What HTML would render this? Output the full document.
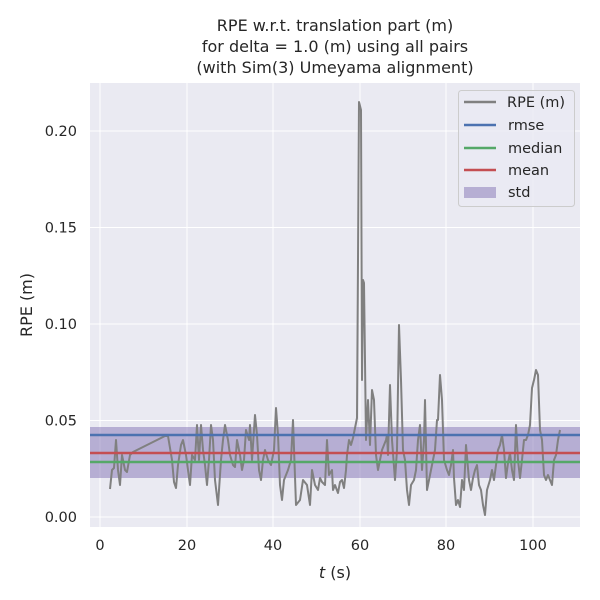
<!DOCTYPE html>
<html><head><meta charset="utf-8"><style>body{margin:0;background:#fff}svg{display:block;font-family:"DejaVu Sans","Liberation Sans",sans-serif}</style></head><body>
<svg width="600" height="600" viewBox="0 0 600 600">
<rect width="600" height="600" fill="#fff"/>
<rect x="90" y="83" width="490" height="444" fill="#eaeaf2"/>
<g stroke="#fff" stroke-width="1">
<line x1="100" y1="83" x2="100" y2="527"/><line x1="187" y1="83" x2="187" y2="527"/><line x1="273" y1="83" x2="273" y2="527"/><line x1="360" y1="83" x2="360" y2="527"/><line x1="446" y1="83" x2="446" y2="527"/><line x1="533" y1="83" x2="533" y2="527"/>
<line x1="90" y1="517" x2="580" y2="517"/><line x1="90" y1="420.5" x2="580" y2="420.5"/><line x1="90" y1="324" x2="580" y2="324"/><line x1="90" y1="227.5" x2="580" y2="227.5"/><line x1="90" y1="131" x2="580" y2="131"/>
</g>
<rect x="90" y="427" width="490" height="51" fill="#8172b3" fill-opacity="0.5"/>
<polyline fill="none" stroke="#808080" stroke-width="2" stroke-linejoin="round" points="110,489 112,470 114,468 116,440 118,470 120,485 122,455 125,470 127,472 130,455 133,452 165,436 168,436 172,460 174,482 176,488 178,465 181,445 183,440 186,455 188,470 190,485 192,455 195,460 197,425 199,460 201,425 203,450 205,465 207,485 209,460 211,425 213,440 215,480 218,505 221,460 223,440 225,425 228,440 230,455 233,465 235,467 237,440 240,455 242,470 244,460 246,430 249,440 250,425 252,460 255,415 257,435 259,470 261,480 263,460 265,450 268,460 271,465 274,450 276,408 278,435 280,485 282,500 284,480 288,470 291,460 293,420 296,505 300,500 303,480 307,485 310,505 312,470 315,485 318,490 320,478 322,482 325,485 327,440 329,475 332,470 333,490 335,485 338,493 340,482 342,480 344,488 346,470 347,455 349,440 351,445 353,438 355,428 357,418 359,102 361,110 362,380 363,280 364,283 366,440 368,400 370,445 372,390 374,400 376,455 378,470 380,460 382,450 384,445 386,440 387,435 388,455 390,385 392,440 395,480 397,450 399,325 401,380 403,450 405,460 407,490 409,505 411,485 414,480 416,470 418,440 420,425 422,470 424,440 425,400 427,490 429,480 431,470 433,460 435,450 437,420 438,420 440,375 442,400 444,460 447,470 449,475 451,465 453,450 454,478 456,505 458,500 460,507 462,480 464,490 466,445 469,480 471,490 473,478 475,470 477,465 479,485 481,490 483,505 485,515 487,490 490,480 492,470 494,480 496,465 498,450 500,445 502,435 504,450 506,478 508,463 510,453 512,470 514,480 516,425 518,460 520,478 522,460 524,440 526,440 528,435 530,425 532,388 534,380 536,370 538,375 540,430 542,440 544,475 546,480 548,475 550,480 552,485 554,460 556,455 558,440 560,430"/>
<line x1="90" y1="435" x2="580" y2="435" stroke="#4c72b0" stroke-width="2.5"/>
<line x1="90" y1="462" x2="580" y2="462" stroke="#55a868" stroke-width="2.5"/>
<line x1="90" y1="453" x2="580" y2="453" stroke="#c44e52" stroke-width="2.5"/>
<g font-size="16" fill="#262626" text-anchor="middle">
<text x="335" y="31">RPE w.r.t. translation part (m)</text>
<text x="335" y="52">for delta = 1.0 (m) using all pairs</text>
<text x="335" y="73">(with Sim(3) Umeyama alignment)</text>
</g>
<g font-size="14.5" fill="#262626" text-anchor="middle">
<text x="100" y="550">0</text><text x="187" y="550">20</text><text x="273" y="550">40</text><text x="360" y="550">60</text><text x="446" y="550">80</text><text x="533" y="550">100</text>
<text x="335" y="578" font-size="16"><tspan font-style="italic">t</tspan> (s)</text>
</g>
<g font-size="14.5" fill="#262626" text-anchor="end">
<text x="77" y="522">0.00</text><text x="77" y="425.5">0.05</text><text x="77" y="329">0.10</text><text x="77" y="232.5">0.15</text><text x="77" y="136">0.20</text>
</g>
<text transform="translate(32,305) rotate(-90)" font-size="16" fill="#262626" text-anchor="middle">RPE (m)</text>
<rect x="458.5" y="90.5" width="116" height="116" rx="3" fill="#eaeaf2" fill-opacity="0.8" stroke="#cccccc"/>
<g stroke-width="2.5"><line x1="464" y1="102" x2="496" y2="102" stroke="#808080"/><line x1="464" y1="125" x2="496" y2="125" stroke="#4c72b0"/><line x1="464" y1="148" x2="496" y2="148" stroke="#55a868"/><line x1="464" y1="170" x2="496" y2="170" stroke="#c44e52"/></g>
<rect x="464" y="187" width="32" height="11" fill="#8172b3" fill-opacity="0.5"/>
<g font-size="14.5" fill="#262626"><text x="507" y="107">RPE (m)</text><text x="508" y="130">rmse</text><text x="508" y="153">median</text><text x="508" y="175">mean</text><text x="508" y="197">std</text></g>
</svg>
</body></html>
